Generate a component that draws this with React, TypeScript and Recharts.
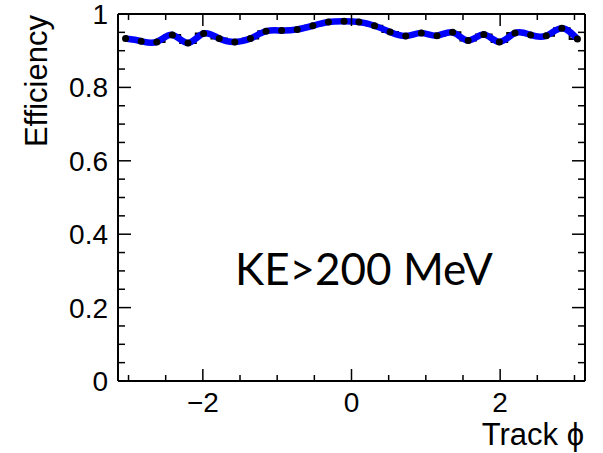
import { ComposedChart, XAxis, YAxis, Line, ErrorBar, Label } from 'recharts'

// bin centres in track phi (30 bins over -pi..pi)
const phiCenters = [
  -3.04, -2.83, -2.62, -2.41, -2.2, -1.99, -1.78, -1.57, -1.36, -1.15,
  -0.94, -0.73, -0.52, -0.31, -0.1, 0.1, 0.31, 0.52, 0.73, 0.94,
  1.15, 1.36, 1.57, 1.78, 1.99, 2.2, 2.41, 2.62, 2.83, 3.04,
]
const efficiency = [
  0.933, 0.926, 0.924, 0.943, 0.921, 0.947, 0.933, 0.924, 0.933, 0.953,
  0.955, 0.958, 0.968, 0.978, 0.98, 0.978, 0.968, 0.951, 0.94, 0.948,
  0.941, 0.95, 0.928, 0.944, 0.924, 0.948, 0.943, 0.941, 0.961, 0.932,
]
const effErr = [
  0.006, 0.006, 0.006, 0.006, 0.006, 0.006, 0.006, 0.006, 0.006, 0.005,
  0.005, 0.005, 0.005, 0.004, 0.004, 0.004, 0.005, 0.005, 0.005, 0.005,
  0.005, 0.005, 0.006, 0.006, 0.006, 0.006, 0.006, 0.006, 0.005, 0.006,
]

const xTicks = [-3, -2.5, -2, -1.5, -1, -0.5, 0, 0.5, 1, 1.5, 2, 2.5, 3]
const xMajor = [-2, 0, 2]
const yTicks = [
  0, 0.05, 0.1, 0.15, 0.2, 0.25, 0.3, 0.35, 0.4, 0.45, 0.5,
  0.55, 0.6, 0.65, 0.7, 0.75, 0.8, 0.85, 0.9, 0.95, 1,
]
const yMajor = [0, 0.2, 0.4, 0.6, 0.8, 1]

const data = phiCenters.map((phi, i) => ({ phi, eff: efficiency[i], ey: effErr[i] }))

const FONT = '"Liberation Sans", Arial, sans-serif'
const fmtX = (v: number) => (v < 0 ? '\u2212' + Math.abs(v) : String(v))

const BottomTick = ({ x, y, payload }: any) => {
  const major = xMajor.includes(payload.value)
  return (
    <g>
      <line x1={x} y1={y} x2={x} y2={y - (major ? 12 : 6)} stroke="#000" strokeWidth={1.5} />
      {major && (
        <text x={x} y={y + 31} textAnchor="middle" fontSize={28} fontFamily={FONT} fill="#000">
          {fmtX(payload.value)}
        </text>
      )}
    </g>
  )
}

const TopTick = ({ x, y, payload }: any) => {
  const major = xMajor.includes(payload.value)
  return <line x1={x} y1={y} x2={x} y2={y + (major ? 12 : 6)} stroke="#000" strokeWidth={1.5} />
}

const LeftTick = ({ x, y, payload }: any) => {
  const major = yMajor.includes(payload.value)
  return (
    <g>
      <line x1={x} y1={y} x2={x + (major ? 13 : 7)} y2={y} stroke="#000" strokeWidth={1.5} />
      {major && (
        <text x={x - 10} y={y + 10} textAnchor="end" fontSize={28} fontFamily={FONT} fill="#000">
          {String(payload.value)}
        </text>
      )}
    </g>
  )
}

const RightTick = ({ x, y, payload }: any) => {
  const major = yMajor.includes(payload.value)
  return <line x1={x} y1={y} x2={x - (major ? 13 : 7)} y2={y} stroke="#000" strokeWidth={1.5} />
}

const Marker = ({ cx, cy }: any) => <circle cx={cx} cy={cy} r={3.5} fill="#000" />

export default function App() {
  const axisLine = { stroke: '#000', strokeWidth: 2 }
  return (
    <div style={{ position: 'absolute', left: 0, top: 0, width: 603, height: 453, background: '#fff' }}>
      <ComposedChart width={603} height={453} data={data} margin={{ top: 13, right: 17, bottom: 71, left: 117 }}>
        <XAxis
          dataKey="phi"
          type="number"
          domain={[-Math.PI, Math.PI]}
          ticks={xTicks}
          interval={0}
          height={1}
          tickSize={0}
          tickMargin={0}
          tickLine={false}
          axisLine={axisLine}
          tick={<BottomTick />}
          allowDataOverflow
        >
          <Label
            content={({ viewBox }: any) => (
              <text
                x={viewBox.x + viewBox.width - 1}
                y={viewBox.y + 64}
                textAnchor="end"
                fontSize={31}
                fontFamily={FONT}
                fill="#000"
              >
                Track ϕ
              </text>
            )}
          />
        </XAxis>
        <XAxis
          xAxisId="top"
          orientation="top"
          dataKey="phi"
          type="number"
          domain={[-Math.PI, Math.PI]}
          ticks={xTicks}
          interval={0}
          height={1}
          tickSize={0}
          tickMargin={0}
          tickLine={false}
          axisLine={axisLine}
          tick={<TopTick />}
          allowDataOverflow
        />
        <YAxis
          type="number"
          domain={[0, 1]}
          ticks={yTicks}
          interval={0}
          width={1}
          tickSize={0}
          tickMargin={0}
          tickLine={false}
          axisLine={axisLine}
          tick={<LeftTick />}
          allowDataOverflow
        >
          <Label
            content={({ viewBox }: any) => {
              const tx = viewBox.x - 70
              const ty = viewBox.y + 1
              return (
                <text
                  x={tx}
                  y={ty}
                  transform={`rotate(-90 ${tx} ${ty})`}
                  textAnchor="end"
                  fontSize={31}
                  fontFamily={FONT}
                  fill="#000"
                >
                  Efficiency
                </text>
              )
            }}
          />
        </YAxis>
        <YAxis
          yAxisId="right"
          orientation="right"
          type="number"
          domain={[0, 1]}
          ticks={yTicks}
          interval={0}
          width={1}
          tickSize={0}
          tickMargin={0}
          tickLine={false}
          axisLine={axisLine}
          tick={<RightTick />}
          allowDataOverflow
        />
        {/* horizontal bin-width error bars */}
        <Line
          dataKey="eff"
          type="step"
          stroke="#000"
          strokeWidth={2}
          dot={false}
          activeDot={false}
          isAnimationActive={false}
        />
        {/* data markers with vertical error bars */}
        <Line
          dataKey="eff"
          stroke="none"
          dot={<Marker />}
          activeDot={false}
          isAnimationActive={false}
        >
          <ErrorBar dataKey="ey" direction="y" width={0} stroke="#000" strokeWidth={2} />
        </Line>
        {/* smooth fit curve */}
        <Line
          dataKey="eff"
          type="natural"
          stroke="#0000ff"
          strokeWidth={6.5}
          dot={false}
          activeDot={false}
          isAnimationActive={false}
        />
      </ComposedChart>
      <svg width={603} height={453} style={{ position: 'absolute', left: 0, top: 0, pointerEvents: 'none' }}>
        <text x={235} y={285} fontSize={44} fontFamily='Lato, "Open Sans", sans-serif' fill="#000">
          KE&gt;200 MeV
        </text>
      </svg>
    </div>
  )
}
